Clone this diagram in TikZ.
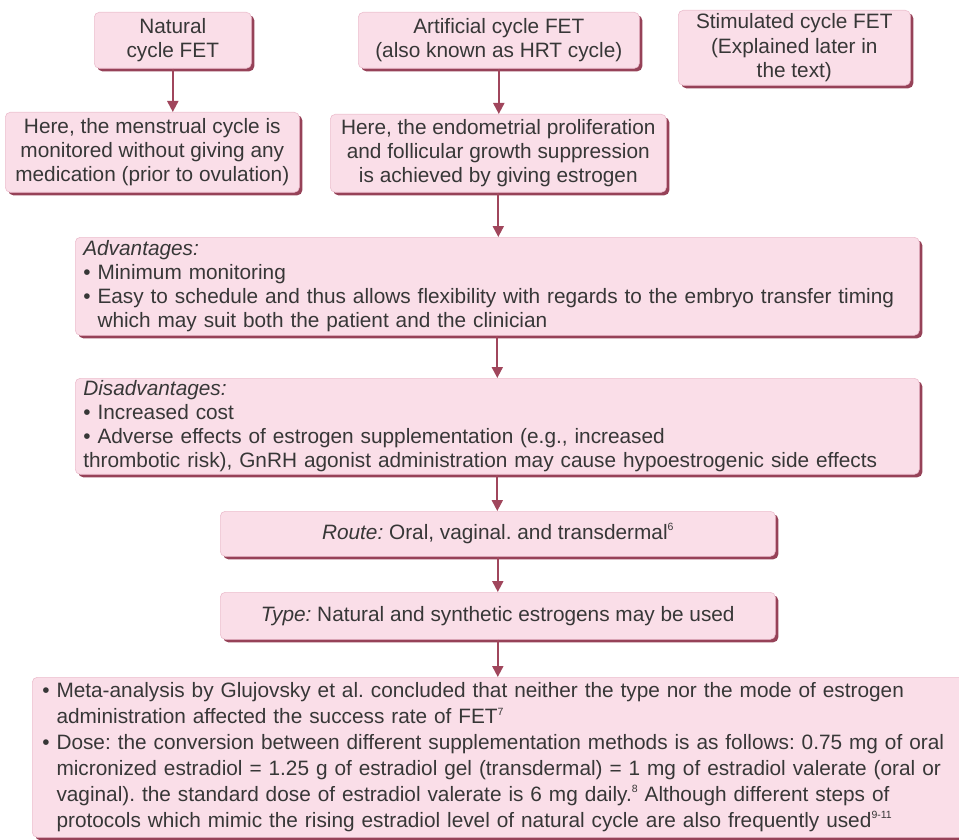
\documentclass[tikz,border=0pt]{standalone}
\usepackage{fontspec}
\setmainfont{Liberation Sans}
\usetikzlibrary{arrows.meta, shadows}
\definecolor{boxpink}{RGB}{250,222,232}
\definecolor{boxedge}{RGB}{236,190,206}
\definecolor{boxshade}{RGB}{150,66,88}
\definecolor{arrowred}{RGB}{160,70,92}
\definecolor{textgray}{RGB}{55,55,55}
\frenchspacing

% small raised reference numbers
\newcommand{\refmark}[1]{\raisebox{0.8ex}{\fontsize{10.5}{10.5}\selectfont #1}}
% indent of a bullet's follow-on lines
\newcommand{\bulletgap}{\hphantom{•\ }}

\begin{document}
\hyphenpenalty=10000
\begin{tikzpicture}[
    x=1pt, y=-1pt,
    >={Triangle[length=11pt, width=11pt]},
    flowbox/.style={draw=boxedge, line width=0.6pt, fill=boxpink, rounded corners=5pt,
        general shadow={fill=boxshade, shadow xshift=3pt, shadow yshift=-3pt},
        text=textgray, font=\fontsize{20.8}{24.2}\selectfont,
        anchor=north west, inner xsep=6pt, inner ysep=2pt},
    listbox/.style={flowbox, align=left, inner xsep=8pt},
    flow/.style={->, line width=2pt, arrowred},
]
\useasboundingbox (0,0) rectangle (959,840);
\clip (0,0) rectangle (959,840);

% === FET TYPES ===
\node[flowbox, minimum width=157pt, minimum height=56pt, align=center] (natural) at (94,12)
    {Natural\\cycle FET};
\node[flowbox, minimum width=281pt, minimum height=56pt, align=center] (artificial) at (358,12)
    {Artificial cycle FET\\(also known as HRT cycle)};
\node[flowbox, minimum width=232pt, minimum height=75pt, align=center] (stimulated) at (678,10)
    {Stimulated cycle FET\\(Explained later in\\the text)};

% === DESCRIPTIONS ===
\node[flowbox, minimum width=294pt, minimum height=80pt, align=center] (menstrual) at (5,112)
    {Here, the menstrual cycle is\\monitored without giving any\\medication (prior to ovulation)};
\node[flowbox, minimum width=336pt, minimum height=78pt, align=center, inner xsep=3pt] (endometrial) at (330,114)
    {Here, the endometrial proliferation\\and follicular growth suppression\\is achieved by giving estrogen};

% === PROS AND CONS ===
\node[listbox, text width=828pt, minimum width=844pt, minimum height=98pt] (advantages) at (75,237) {
    \textit{Advantages:}\\
    • Minimum monitoring\\
    • Easy to schedule and thus allows flexibility with regards to the embryo transfer timing\\
    \bulletgap which may suit both the patient and the clinician
};
\node[listbox, text width=828pt, minimum width=844pt, minimum height=95pt] (disadvantages) at (75,378) {
    \textit{Disadvantages:}\\
    • Increased cost\\
    • Adverse effects of estrogen supplementation (e.g., increased\\
    thrombotic risk), GnRH agonist administration may cause hypoestrogenic side effects
};

% === ROUTE AND TYPE ===
\node[flowbox, minimum width=555pt, minimum height=45pt, align=center] (route) at (220,511)
    {\textit{Route:} Oral, vaginal. and transdermal\refmark{6}};
\node[flowbox, minimum width=555pt, minimum height=47pt, align=center] (type) at (220,592)
    {\textit{Type:} Natural and synthetic estrogens may be used};

% === EVIDENCE AND DOSE ===
\node[listbox, font=\fontsize{20.8}{25.9}\selectfont, inner xsep=10pt,
      text width=930pt, minimum width=950pt, minimum height=160pt] (evidence) at (32,677) {
    • Meta-analysis by Glujovsky et al. concluded that neither the type nor the mode of estrogen\\
    \bulletgap administration affected the success rate of FET\refmark{7}\\
    • Dose: the conversion between different supplementation methods is as follows: 0.75 mg of oral\\
    \bulletgap micronized estradiol = 1.25 g of estradiol gel (transdermal) = 1 mg of estradiol valerate (oral or\\
    \bulletgap vaginal). the standard dose of estradiol valerate is 6 mg daily.\refmark{8} Although different steps of\\
    \bulletgap protocols which mimic the rising estradiol level of natural cycle are also frequently used\refmark{9-11}
};

% === ARROWS ===
\draw[flow] (natural.south) -- (natural.south |- menstrual.north);
\draw[flow] (artificial.south) -- (artificial.south |- endometrial.north);
\draw[flow] (endometrial.south) -- (endometrial.south |- advantages.north);
\draw[flow] (advantages.south) -- (advantages.south |- disadvantages.north);
\draw[flow] (disadvantages.south) -- (disadvantages.south |- route.north);
\draw[flow] (route.south) -- (route.south |- type.north);
\draw[flow] (type.south) -- (type.south |- evidence.north);

\end{tikzpicture}
\end{document}
